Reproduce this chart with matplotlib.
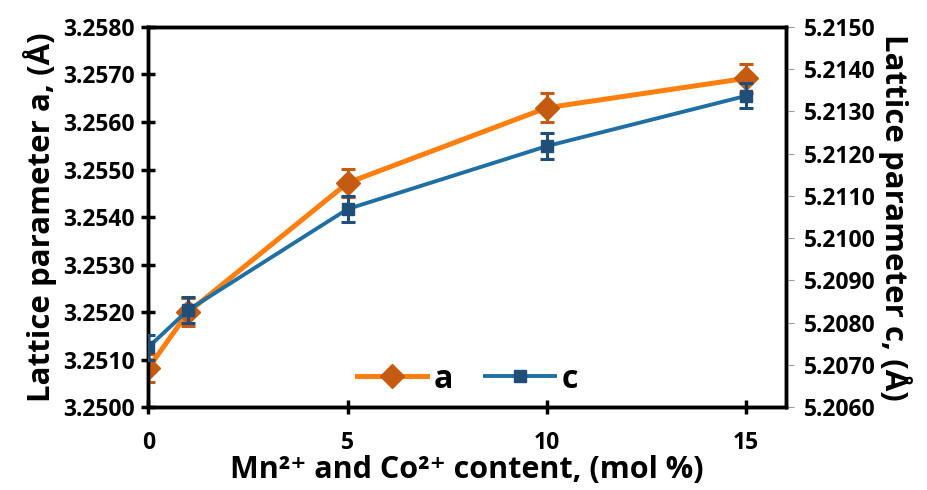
import numpy as np
import matplotlib
matplotlib.use('Agg')
import matplotlib.pyplot as plt
from matplotlib.lines import Line2D
from matplotlib.ticker import FormatStrFormatter

plt.rcParams['font.family'] = ['Open Sans', 'DejaVu Sans']

# data
content = [0, 1, 5, 10, 15]
a_param = [3.25082, 3.25200, 3.25472, 3.25630, 3.25692]
a_err = [0.0003, 0.0003, 0.0003, 0.0003, 0.0003]
c_param = [5.20742, 5.20830, 5.21069, 5.21218, 5.21337]
c_err = [0.0003, 0.0003, 0.0003, 0.0003, 0.0003]

x_ticks = [0, 5, 10, 15]
a_ticks = np.arange(3.2500, 3.25801, 0.0010)
c_ticks = np.arange(5.2060, 5.21501, 0.0010)

orange, orange_dk = '#FF7F0E', '#C55A11'
blue, blue_dk = '#1F6FA3', '#1F4E79'

fig = plt.figure(figsize=(9.27, 4.90), dpi=100)
ax = fig.add_axes([0.160, 0.169, 0.688, 0.776])
ax2 = ax.twinx()

ax.errorbar(content, a_param, yerr=a_err, color=orange, lw=3.6,
            marker='D', ms=12, mfc=orange_dk, mec=orange_dk,
            ecolor=orange_dk, elinewidth=2.2, capsize=5, capthick=2.2,
            zorder=3)
ax2.errorbar(content, c_param, yerr=c_err, color=blue, lw=2.8,
             marker='s', ms=9, mfc=blue_dk, mec=blue_dk,
             ecolor=blue_dk, elinewidth=2.2, capsize=5, capthick=2.2,
             zorder=3)

ax.set_xlim(0, 16)
ax.set_ylim(3.2500, 3.2580)
ax2.set_ylim(5.2060, 5.2150)
ax.set_xticks(x_ticks)
ax.set_yticks(a_ticks)
ax2.set_yticks(c_ticks)
ax.yaxis.set_major_formatter(FormatStrFormatter('%.4f'))
ax2.yaxis.set_major_formatter(FormatStrFormatter('%.4f'))

for s in ax2.spines.values():
    s.set_linewidth(2.5)
for s in ax.spines.values():
    s.set_linewidth(2.5)

ax.tick_params(axis='both', direction='inout', length=10, width=2.5,
               labelsize=16.5, pad=5)
ax.tick_params(axis='x', pad=12)
ax2.tick_params(axis='y', direction='out', length=6, width=0.8, color='#999999',
                labelsize=16.5, pad=7)
for lab in ax.get_xticklabels() + ax.get_yticklabels() + ax2.get_yticklabels():
    lab.set_fontweight('bold')

ax.set_xlabel('Mn²⁺ and Co²⁺ content, (mol %)', fontsize=22,
              fontweight='bold', labelpad=0)
ax.set_ylabel('Lattice parameter a, (Å)', fontsize=22.5, fontweight='bold',
              labelpad=4)
ax2.set_ylabel('Lattice parameter c, (Å)', fontsize=22.5, fontweight='bold',
               rotation=270, labelpad=26)

ha = Line2D([], [], color=orange, lw=3.6, marker='D', ms=12,
            mfc=orange_dk, mec=orange_dk)
hc = Line2D([], [], color=blue, lw=2.8, marker='s', ms=9,
            mfc=blue_dk, mec=blue_dk)
leg = ax.legend(handles=[ha, hc], labels=['a', 'c'], loc='lower center',
                bbox_to_anchor=(0.5, -0.045), ncol=2, frameon=False,
                fontsize=23, handlelength=2.2, columnspacing=1.0,
                handletextpad=0.2)
for t in leg.get_texts():
    t.set_fontweight('bold')

fig.savefig('out.png', dpi=100)
